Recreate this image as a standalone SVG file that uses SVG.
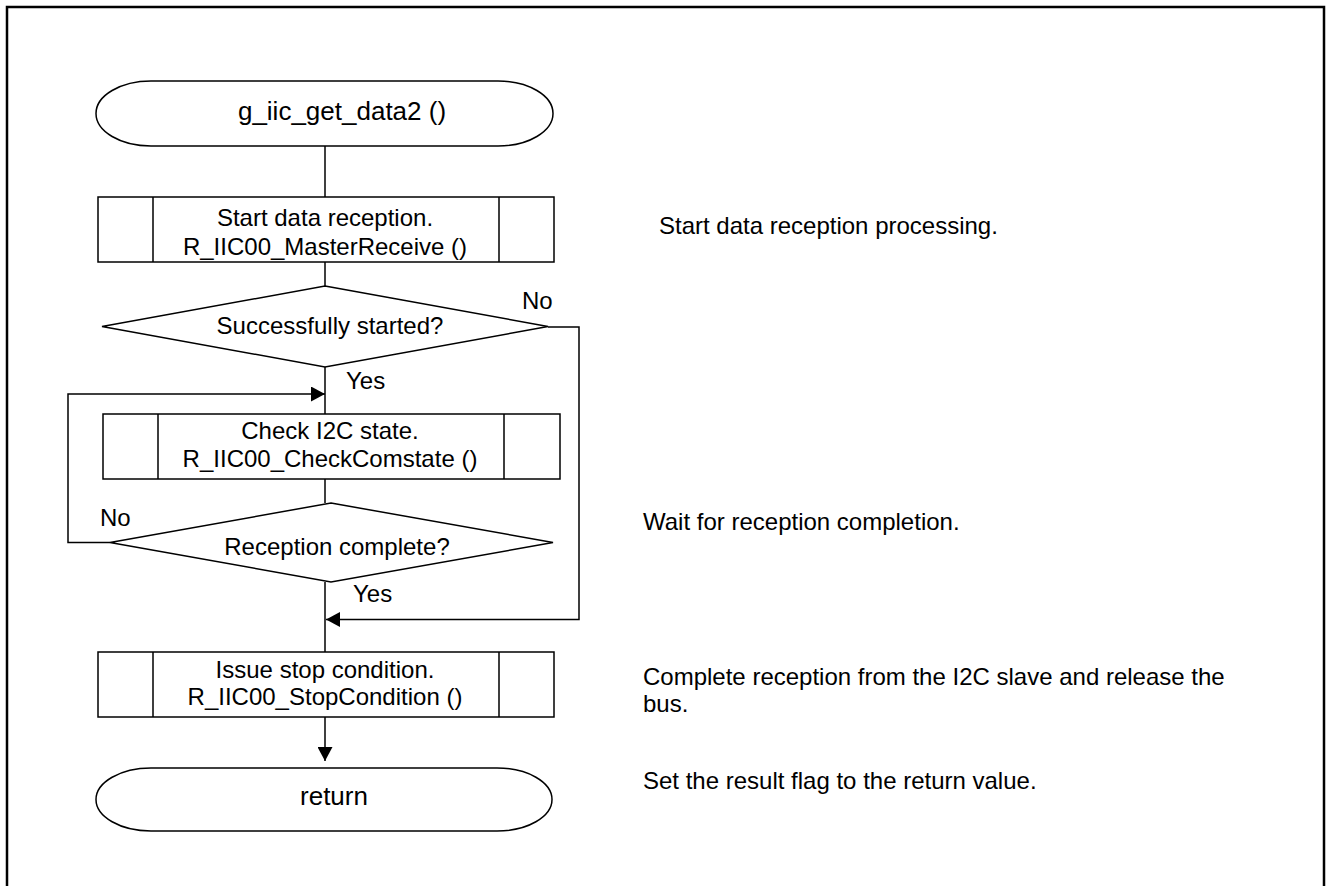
<svg xmlns="http://www.w3.org/2000/svg" width="1327" height="886" viewBox="0 0 1327 886">
  <style>
    .frame { fill: none; stroke: #000; stroke-width: 2.5; }
    .shape { fill: #fff; stroke: #000; stroke-width: 1.5; }
    .conn { fill: none; stroke: #000; stroke-width: 1.5; }
    text { font-family: "Liberation Sans", Arial, sans-serif; font-size: 24px; fill: #000; }
    .c { text-anchor: middle; }
    .term { font-size: 26px; }
  </style>
  <defs>
    <marker id="arrow" markerUnits="userSpaceOnUse" markerWidth="15" markerHeight="15" refX="14" refY="7.5" orient="auto">
      <path d="M0,0 L14,7.5 L0,15 Z" fill="#000"/>
    </marker>
  </defs>

  <rect width="1327" height="886" fill="#fff"/>
  <!-- page frame -->
  <path class="frame" d="M7,886 V7 H1324 V886"/>

  <!-- connectors -->
  <g id="connectors">
    <path class="conn" d="M325,146 V197"/>
    <path class="conn" d="M325,262 V286"/>
    <path class="conn" d="M325,367 V414"/>
    <path class="conn" d="M325,479 V503"/>
    <path class="conn" d="M325,582 V652"/>
    <path class="conn" d="M325,717 V761" marker-end="url(#arrow)"/>
    <!-- retry loop back above the state check -->
    <path class="conn" d="M110,542.5 H68 V394 H325" marker-end="url(#arrow)"/>
    <!-- start failure bypass -->
    <path class="conn" d="M548,327 H579 V619.5 H326" marker-end="url(#arrow)"/>
    <text x="522" y="309">No</text>
    <text x="346" y="389">Yes</text>
    <text x="100" y="526">No</text>
    <text x="353" y="602">Yes</text>
  </g>

  <g id="start">
    <rect class="shape" x="96" y="81" width="457" height="65" rx="55" ry="32.5"/>
    <text class="c term" x="342" y="120">g_iic_get_data2 ()</text>
  </g>

  <g id="master-receive">
    <rect class="shape" x="98" y="197" width="456" height="65"/>
    <path class="conn" d="M153,197 V262 M499,197 V262"/>
    <text class="c" x="325" y="226">Start data reception.</text>
    <text class="c" x="325" y="255">R_IIC00_MasterReceive ()</text>
  </g>

  <g id="started-check">
    <polygon class="shape" points="325,286 548,326.5 325,367 102,326.5"/>
    <text class="c" x="330" y="334">Successfully started?</text>
  </g>

  <g id="check-comstate">
    <rect class="shape" x="103" y="414" width="457" height="65"/>
    <path class="conn" d="M158,414 V479 M504,414 V479"/>
    <text class="c" x="330" y="438.5">Check I2C state.</text>
    <text class="c" x="330" y="467">R_IIC00_CheckComstate ()</text>
  </g>

  <g id="complete-check">
    <polygon class="shape" points="331,503 553,542.5 331,582 110,542.5"/>
    <text class="c" x="337" y="555">Reception complete?</text>
  </g>

  <g id="stop-condition">
    <rect class="shape" x="98" y="652" width="456" height="65"/>
    <path class="conn" d="M153,652 V717 M499,652 V717"/>
    <text class="c" x="325" y="677.5">Issue stop condition.</text>
    <text class="c" x="325" y="705">R_IIC00_StopCondition ()</text>
  </g>

  <g id="return">
    <rect class="shape" x="96" y="768" width="456" height="63" rx="55" ry="31.5"/>
    <text class="c term" x="334" y="805">return</text>
  </g>

  <g id="notes">
    <text x="659" y="234">Start data reception processing.</text>
    <text x="643" y="530">Wait for reception completion.</text>
    <text x="643" y="685">Complete reception from the I2C slave and release the</text>
    <text x="643" y="712">bus.</text>
    <text x="643" y="789">Set the result flag to the return value.</text>
  </g>
</svg>
